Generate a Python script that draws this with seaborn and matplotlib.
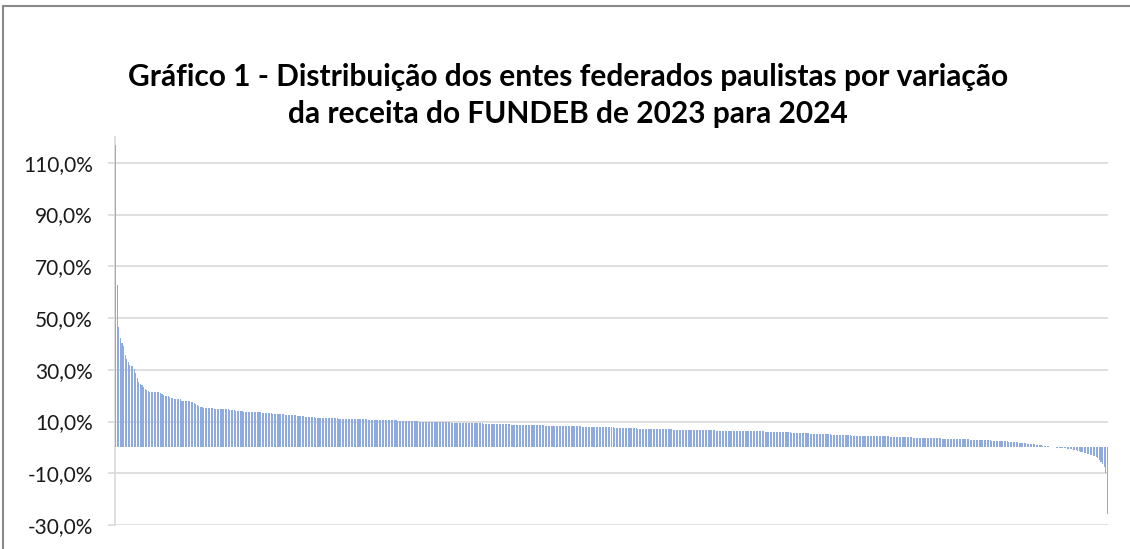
import seaborn as sns
import matplotlib.pyplot as plt
import pandas as pd
from matplotlib.ticker import FuncFormatter
from matplotlib.lines import Line2D

# variação da receita do FUNDEB 2023->2024 (%), ordenada de forma decrescente
topo = [117.0, 62.7, 46.5, 42.2, 40.2, 39.2, 35.6, 34.0, 33.0, 31.7,
        31.6, 31.5, 30.5, 28.6, 26.7, 25.3, 24.5, 24.0, 23.2, 22.4, 22.0]

faixa_20 = [21.7, 21.6, 21.6, 21.5, 21.5, 21.5, 21.4, 21.3,
            21.0, 20.7, 20.3, 20.0, 19.8, 19.7, 19.6,
            19.2, 19.0, 18.9, 18.8, 18.7, 18.7, 18.6,
            18.1, 18.0, 17.9, 17.9, 17.8, 17.8, 17.7, 17.6,
            17.1, 16.8, 16.2, 15.9, 15.6, 15.5, 15.4]

faixa_15 = [15.3, 15.2, 15.2, 15.1, 15.1, 15.1, 15.0, 15.0, 15.0, 15.0,
            14.9, 14.9, 14.9, 14.8, 14.8, 14.7, 14.6, 14.5, 14.4, 14.3,
            14.2, 14.1, 14.0]

faixa_13 = [13.9, 13.9, 13.8, 13.8, 13.8, 13.7, 13.7, 13.7, 13.6, 13.6,
            13.6, 13.5, 13.5, 13.5, 13.4, 13.4, 13.3, 13.3, 13.3, 13.2,
            13.2, 13.1, 13.1, 13.0, 13.0, 12.9, 12.9, 12.8, 12.8, 12.7,
            12.7, 12.6, 12.6, 12.5, 12.5, 12.4, 12.4, 12.3, 12.3, 12.2]

faixa_10 = [12.1, 12.0, 11.9, 11.8, 11.7,
            11.7, 11.6, 11.6, 11.6, 11.5, 11.5, 11.5, 11.4, 11.4, 11.4,
            11.4, 11.3, 11.3, 11.3, 11.3, 11.2, 11.2, 11.2, 11.2, 11.1, 11.1,
            11.1, 11.1, 11.0, 11.0, 11.0, 11.0, 11.0, 10.9, 10.9, 10.9,
            10.9, 10.9, 10.8, 10.8, 10.8, 10.8, 10.8, 10.7, 10.7, 10.7, 10.7,
            10.7, 10.6, 10.6, 10.6, 10.6, 10.5, 10.5, 10.5, 10.5, 10.5, 10.4,
            10.4, 10.4, 10.4, 10.4, 10.3, 10.3, 10.3, 10.3, 10.3, 10.2, 10.2,
            10.2, 10.2, 10.1, 10.1, 10.1, 10.1, 10.1, 10.0, 10.0, 10.0, 10.0,
            10.0, 9.9, 9.9, 9.9, 9.9, 9.9, 9.9, 9.8, 9.8, 9.8, 9.8]

faixa_8 = [9.8, 9.7, 9.7, 9.7, 9.7, 9.7, 9.6, 9.6, 9.6, 9.6, 9.6,
           9.5, 9.5, 9.5, 9.5, 9.5, 9.5, 9.4, 9.4, 9.4, 9.4,
           9.4, 9.3, 9.3, 9.3, 9.3, 9.3, 9.2, 9.2, 9.2, 9.2, 9.1,
           9.1, 9.1, 9.1, 9.0, 9.0, 9.0, 9.0, 9.0, 8.9, 8.9, 8.9,
           8.9, 8.9, 8.8, 8.8, 8.8, 8.8, 8.8, 8.7, 8.7, 8.7, 8.7,
           8.7, 8.6, 8.6, 8.6, 8.6, 8.6, 8.6, 8.5, 8.5, 8.5, 8.5,
           8.5, 8.5, 8.4, 8.4, 8.4, 8.4, 8.4, 8.4, 8.4, 8.3, 8.3,
           8.3, 8.3, 8.3, 8.3,
           8.3, 8.2, 8.2, 8.2, 8.2, 8.2, 8.1, 8.1, 8.1, 8.1, 8.1,
           8.0, 8.0, 8.0, 8.0, 8.0, 8.0, 7.9, 7.9, 7.9, 7.9, 7.9]

faixa_6 = [7.8, 7.8, 7.8, 7.8, 7.8, 7.7, 7.7, 7.7, 7.7, 7.7, 7.6,
           7.6, 7.6, 7.6, 7.6, 7.6, 7.5, 7.5, 7.5, 7.5, 7.5,
           7.4, 7.4, 7.4, 7.4, 7.3, 7.3, 7.3, 7.3, 7.3, 7.2, 7.2,
           7.2, 7.2, 7.2, 7.1, 7.1, 7.1, 7.1, 7.1, 7.0, 7.0, 7.0,
           7.0, 7.0, 7.0, 7.0, 7.0, 6.9, 6.9, 6.9, 6.9, 6.9, 6.9,
           6.9, 6.9, 6.9, 6.8, 6.8, 6.8, 6.8, 6.8, 6.8, 6.8, 6.8,
           6.7, 6.7, 6.7, 6.7, 6.7, 6.6, 6.6, 6.6, 6.6, 6.6, 6.6,
           6.5, 6.5, 6.5, 6.5, 6.5, 6.5, 6.4, 6.4, 6.4, 6.4,
           6.4, 6.4, 6.4, 6.4, 6.3, 6.3, 6.3, 6.3, 6.3, 6.3, 6.3,
           6.3, 6.3, 6.3, 6.2, 6.2, 6.2, 6.2, 6.2, 6.2, 6.2, 6.2]

faixa_4 = [6.1, 6.1, 6.1, 6.1, 6.1, 6.0, 6.0, 6.0, 6.0, 6.0, 5.9,
           5.9, 5.9, 5.9, 5.8, 5.8, 5.8, 5.7, 5.7, 5.7, 5.6, 5.6,
           5.6, 5.5, 5.5, 5.5, 5.4, 5.4, 5.4, 5.3, 5.3, 5.3, 5.2,
           5.2, 5.2, 5.1, 5.1,
           5.1, 5.1, 5.0, 5.0, 5.0, 5.0, 4.9, 4.9, 4.9, 4.9, 4.8,
           4.8, 4.8, 4.8, 4.7, 4.7, 4.7, 4.7, 4.7, 4.6, 4.6, 4.6,
           4.6, 4.6, 4.6, 4.6, 4.5, 4.5, 4.5, 4.5, 4.5, 4.5, 4.4,
           4.4, 4.4, 4.4, 4.4, 4.4, 4.3, 4.3, 4.3, 4.3, 4.3, 4.3]

faixa_2 = [4.2, 4.2, 4.2, 4.2, 4.1, 4.1, 4.1, 4.1, 4.0, 4.0, 4.0,
           4.0, 3.9, 3.9, 3.9, 3.8, 3.8, 3.8, 3.8, 3.7, 3.7,
           3.7, 3.7, 3.7, 3.6, 3.6, 3.6, 3.6, 3.6, 3.5, 3.5, 3.5,
           3.5, 3.5, 3.4, 3.4, 3.4, 3.4, 3.4, 3.3, 3.3, 3.3, 3.3,
           3.3, 3.2, 3.2, 3.2, 3.2, 3.1, 3.1, 3.1, 3.1, 3.0, 3.0,
           3.0, 3.0, 2.9, 2.9, 2.9, 2.9, 2.8, 2.8, 2.8, 2.7, 2.7]

cauda = [2.7, 2.6, 2.6, 2.6, 2.5, 2.5, 2.5, 2.4, 2.4, 2.3, 2.3,
         2.3, 2.2, 2.2, 2.1, 2.1, 2.0, 2.0, 1.9, 1.8, 1.7,
         1.7, 1.6, 1.6, 1.5, 1.4, 1.4, 1.3, 1.2, 1.2, 1.1, 1.0, 0.9, 0.8,
         0.7, 0.6, 0.5, 0.5, 0.4, 0.3, 0.2, 0.1,
         0.0, -0.1, -0.1, -0.2, -0.2, -0.3, -0.3,
         -0.4, -0.5, -0.6, -0.7, -0.8, -0.9, -1.0, -1.1, -1.2,
         -1.4, -1.6, -1.8, -2.0, -2.2, -2.5,
         -2.6, -2.8, -3.0, -3.2, -3.4, -3.7,
         -4.2, -5.0, -5.8, -6.5, -7.6, -9.9, -25.7]

variacao = topo + faixa_20 + faixa_15 + faixa_13 + faixa_10 + faixa_8 + faixa_6 + faixa_4 + faixa_2 + cauda
df = pd.DataFrame({"ente": range(len(variacao)), "variacao": variacao})

sns.set_style("white")
plt.rcParams["font.family"] = ["Lato", "DejaVu Sans"]

fig = plt.figure(figsize=(11.3, 5.49), dpi=100)
ax = fig.add_axes([0.1018, 0.0437, 0.8787, 0.7068])

sns.barplot(data=df, x="ente", y="variacao", color="#8FAADC", saturation=1,
            width=0.7, errorbar=None, linewidth=0, ax=ax, zorder=3)

ax.set_ylim(-30, 120)
ax.set_xlim(-0.5, len(variacao) - 0.5)
ax.set_yticks([-30, -10, 10, 30, 50, 70, 90, 110])
ax.yaxis.set_major_formatter(FuncFormatter(lambda v, p: f"{v:.1f}%".replace(".", ",")))
ax.set_xticks([])
ax.set_xlabel("")
ax.set_ylabel("")

ax.grid(axis="y", color="#D9D9D9", linewidth=1.2, zorder=0)
ax.tick_params(axis="y", length=5, width=1.2, color="#D9D9D9", labelsize=15,
               labelcolor="#1a1a1a", pad=11, left=True)
for lado in ["top", "right", "bottom"]:
    ax.spines[lado].set_visible(False)
ax.spines["left"].set_color("#D9D9D9")
ax.spines["left"].set_linewidth(1.2)

fig.text(0.503, 0.826, "Gráfico 1 - Distribuição dos entes federados paulistas por variação\nda receita do FUNDEB de 2023 para 2024",
         ha="center", va="center", fontsize=21.5, fontweight="bold", linespacing=1.4, color="black")

# moldura da área do gráfico (só topo e esquerda aparecem)
fig.add_artist(Line2D([0.0027, 0.0027], [0, 0.989], color="#898989", linewidth=1.5))
fig.add_artist(Line2D([0.0027, 1.0], [0.989, 0.989], color="#898989", linewidth=1.5))

plt.savefig("out.png", dpi=100)
plt.close()
